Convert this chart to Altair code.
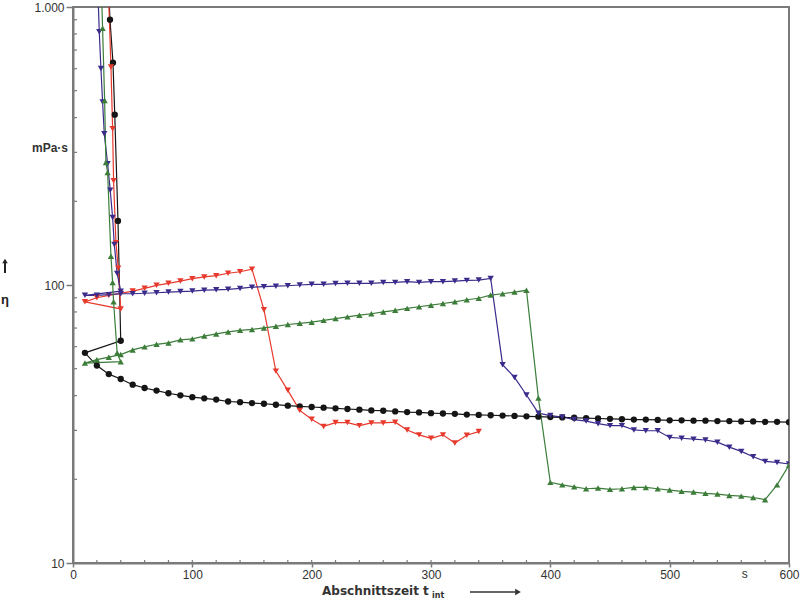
import altair as alt
import pandas as pd

# ---------------- data ----------------
t_grid = [10, 20, 30, 40, 50, 60, 70, 80, 90, 100, 110, 120, 130, 140, 150,
          160, 170, 180, 190, 200, 210, 220, 230, 240, 250, 260, 270, 280, 290, 300,
          310, 320, 330, 340, 350, 360, 370, 380, 390, 400, 410, 420, 430, 440, 450,
          460, 470, 480, 490, 500, 510, 520, 530, 540, 550, 560, 570, 580, 590, 600]

# black (circles)
black_spike_t = [29, 31, 33.5, 35, 37.7, 40]
black_spike_v = [1400, 900, 630, 410, 170, 63]
black_v = [57, 51.3, 47.8, 45.9, 43.8, 42.6, 41.7, 40.8, 40.1, 39.5, 39.1, 38.7, 38.1, 37.9, 37.6,
           37.4, 37.1, 36.8, 36.6, 36.4, 36.2, 36.0, 35.8, 35.6, 35.4, 35.3, 35.1, 34.9, 34.8, 34.6,
           34.5, 34.4, 34.2, 34.1, 34.0, 33.9, 33.8, 33.7, 33.6, 33.5, 33.4, 33.3, 33.2, 33.1, 33.0,
           32.9, 32.8, 32.8, 32.7, 32.6, 32.6, 32.5, 32.5, 32.4, 32.4, 32.3, 32.3, 32.2, 32.2, 32.1]

# red (down triangles)
red_spike_t = [29, 31.8, 33.2, 34, 36, 37.9, 40]
red_spike_v = [1400, 608, 365, 237, 142, 115, 82]
red_v = [87, 90, 91.8, 93.3, 95.1, 97.3, 99.7, 101.4, 103.3, 105.4, 106.9, 108, 110.2, 111.6, 114,
         81.5, 49, 41.8, 35.4, 32.9, 31.0, 32.0, 32.0, 31.2, 31.9, 31.9, 32.1, 30.1, 28.9, 28.1,
         28.9, 27.0, 28.8, 29.7]

# blue (down triangles)
blue_spike_t = [20, 22, 23.4, 24.8, 26.2, 29, 31.2, 33.2, 34.6, 37, 40]
blue_spike_v = [1500, 814, 601, 455, 350, 273, 219, 175, 140, 110, 95]
blue_v = [91.8, 91.8, 92.3, 93, 93, 93.4, 93.8, 94.3, 94.7, 95.1, 95.8, 96.1, 96.5, 97.2, 98.2,
          98.6, 99.0, 99.4, 100, 100.6, 100.6, 101.2, 101.4, 101.4, 101.4, 102, 102.2, 102.8, 102.2, 102.8,
          102.8, 103.3, 103.9, 104.2, 105.6, 51.7, 46.5, 40.2, 34.6, 33.9, 33.5, 32.8, 32.4, 31.7, 31.2,
          31.2, 30.1, 29.9, 29.9, 28.3, 28.1, 27.9, 27.7, 27.2, 26.1, 25.2, 24.1, 23.2, 23.0, 22.7]

# green (up triangles)
green_spike_t = [23, 24.8, 26.5, 27.6, 29, 31.8, 33.2, 34, 37, 40]
green_spike_v = [1500, 838, 461, 276, 254, 127, 102, 87, 57, 53]
green_v = [52.4, 53.9, 55.0, 56.2, 58.4, 59.9, 61.2, 61.9, 63.5, 64.0, 65.5, 66.7, 67.8, 68.7, 69.2,
           70.1, 71.0, 72.1, 72.8, 73.5, 74.6, 75.7, 76.8, 77.9, 78.8, 80.0, 81.1, 82.4, 83.5, 84.6,
           85.8, 87.0, 88.5, 89.6, 92.0, 93.0, 94.3, 95.7, 39.2, 19.5, 19.1, 18.8, 18.5, 18.6, 18.4,
           18.5, 18.7, 18.7, 18.5, 18.3, 18.1, 18.0, 17.8, 17.7, 17.5, 17.4, 17.2, 16.9, 19.1, 22.5]

series_names = ["red", "green", "blue", "black"]
series_colors = ["#e8392d", "#3d7d3a", "#3b2c8c", "#151515"]
series_shapes = ["triangle-down", "triangle-up", "triangle-down", "circle"]

x_major = [0, 100, 200, 300, 400, 500, 600]
x_inner_ticks = [20, 40, 60, 80, 100, 120, 140, 160, 180, 200, 220, 240, 260, 280, 300,
                 320, 340, 360, 380, 400, 420, 440, 460, 480, 500, 520, 540, 560, 580]
y_major = [10, 100, 1000]
y_minor = [20, 30, 40, 50, 60, 70, 80, 90, 200, 300, 400, 500, 600, 700, 800, 900]

# ---------------- build table ----------------
rows = []
def add(name, ts, vs):
    for t, v in zip(ts, vs):
        rows.append({"series": name, "idx": len(rows), "t": t, "v": v})

add("black", black_spike_t, black_spike_v)
add("black", t_grid, black_v)
add("red", red_spike_t, red_spike_v)
add("red", t_grid[:len(red_v)], red_v)
add("blue", blue_spike_t, blue_spike_v)
add("blue", t_grid, blue_v)
add("green", green_spike_t, green_spike_v)
add("green", t_grid, green_v)
df = pd.DataFrame(rows)

W, H = 716, 556
AX = "#7a7a7a"
FONT = "Liberation Sans"
TFONT = "DejaVu Sans"

xscale = alt.Scale(domain=[0, 600], nice=False, zero=False)
yscale = alt.Scale(type="log", domain=[10, 1000], nice=False)

xaxis = alt.Axis(values=x_major, title=None, grid=False, tickSize=4, tickColor=AX, tickWidth=1.5,
                 domainColor=AX, domainWidth=2, labelFontSize=12, labelColor="#333",
                 labelFont=FONT, labelPadding=2, labelFlush=False)
yaxis = alt.Axis(values=y_major, title=None, grid=False, tickSize=7, tickColor=AX, tickWidth=1.5,
                 domainColor=AX, domainWidth=2, labelFontSize=12, labelColor="#333",
                 labelFont=FONT, labelPadding=2,
                 labelExpr="datum.value >= 1000 ? '1.000' : format(datum.value, 'd')")

color = alt.Color("series:N", scale=alt.Scale(domain=series_names, range=series_colors), legend=None)
shape = alt.Shape("series:N", scale=alt.Scale(domain=series_names, range=series_shapes), legend=None)

base = alt.Chart(df)
lines = base.mark_line(strokeWidth=1.2, clip=True).encode(
    x=alt.X("t:Q", scale=xscale, axis=xaxis),
    y=alt.Y("v:Q", scale=yscale, axis=yaxis),
    color=color,
    order=alt.Order("idx:Q"),
)
points = base.mark_point(filled=True, size=40, opacity=1, clip=True).encode(
    x=alt.X("t:Q", scale=xscale),
    y=alt.Y("v:Q", scale=yscale),
    color=color,
    shape=shape,
)

xt = alt.Chart(pd.DataFrame({"t": x_inner_ticks})).mark_rule(color=AX, strokeWidth=1.2).encode(
    x=alt.X("t:Q", scale=xscale), y=alt.value(H), y2=alt.value(H - 3))
yt = alt.Chart(pd.DataFrame({"v": y_minor})).mark_rule(color=AX, strokeWidth=1.2).encode(
    y=alt.Y("v:Q", scale=yscale), x=alt.value(0), x2=alt.value(4))

def txt(s, x, y, size=12, bold=True, align="left", color="#333", font=FONT):
    return alt.Chart(pd.DataFrame({"s": [s]})).mark_text(
        align=align, baseline="middle", fontSize=size, font=font,
        fontWeight="bold" if bold else "normal", color=color
    ).encode(text="s:N", x=alt.value(x), y=alt.value(y))

unit_s = alt.Chart(pd.DataFrame({"s": ["s"]})).mark_text(
    fontSize=12, font=FONT, color="#333", baseline="top"
).encode(text="s:N", x=alt.datum(563, scale=xscale), y=alt.value(H + 6))

mpas = txt("mPa·s", -5, 141, size=12, align="right")
eta = txt("η", -68, 293, size=13, align="center", color="#222")
up_line = alt.Chart(pd.DataFrame({"a": [0]})).mark_rule(color="#222", strokeWidth=2).encode(
    x=alt.value(-68), y=alt.value(256), y2=alt.value(266))
up_head = alt.Chart(pd.DataFrame({"a": [0]})).mark_point(
    shape="triangle-up", filled=True, size=30, color="#222", opacity=1).encode(
    x=alt.value(-68), y=alt.value(254))

xtitle = txt("Abschnittszeit t", 249, 584, size=12, font=TFONT)
xsub = txt("int", 359, 589, size=8, font=TFONT)
arr_line = alt.Chart(pd.DataFrame({"a": [0]})).mark_rule(color="#333", strokeWidth=1.5).encode(
    x=alt.value(397), x2=alt.value(442), y=alt.value(585))
arr_head = alt.Chart(pd.DataFrame({"a": [0]})).mark_point(
    shape="triangle-right", filled=True, size=45, color="#333", opacity=1).encode(
    x=alt.value(445), y=alt.value(585))

chart = alt.layer(
    xt, yt, lines, points, unit_s, mpas, up_line, up_head, eta, xtitle, xsub, arr_line, arr_head
).properties(
    width=W, height=H,
    autosize=alt.AutoSizeParams(type="none"),
    padding={"left": 73, "top": 7, "right": 16, "bottom": 41},
    background="white",
).configure_view(stroke=AX, strokeWidth=2)

chart.save("out.html", embed_options={"renderer": "svg", "actions": False})
